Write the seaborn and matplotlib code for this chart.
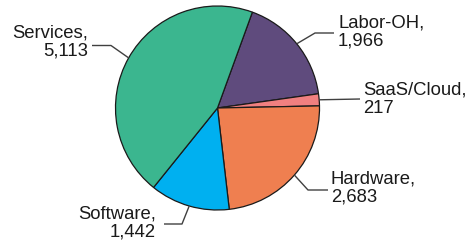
import matplotlib
matplotlib.use("Agg")
import matplotlib.pyplot as plt
import seaborn as sns
import numpy as np

sns.set_theme(style="white")
plt.rcParams['font.family'] = ['Liberation Sans', 'DejaVu Sans']

categories = ["Labor-OH", "SaaS/Cloud", "Hardware", "Software", "Services"]
values = [1966, 217, 2683, 1442, 5113]
colors = ["#5f4b7d", "#f08080", "#ef7f50", "#00b0f0", "#3bb68f"]

W, H = 468, 245
CX, CY, R = 217.5, 108.0, 102.0

fig = plt.figure(figsize=(W / 100, H / 100), dpi=100)
ax = fig.add_axes([(CX - R) / W, (H - CY - R) / H, 2 * R / W, 2 * R / H])
ax.set_xlim(-1, 1)
ax.set_ylim(-1, 1)
ax.axis("off")

wedges, _ = ax.pie(values, colors=colors, startangle=70, counterclock=False,
                   radius=1.0, center=(0, 0), frame=False,
                   wedgeprops=dict(edgecolor="#1a1a1a", linewidth=0.9))
ax.set_xlim(-1, 1)
ax.set_ylim(-1, 1)


def d(px, py):
    return ((px - CX) / R, (CY - py) / R)


# label layout (pixels): text anchor, alignment, elbow, line end near text
layout = {
    "Services":   dict(text=(88, 42), ha="right", elbow=(111, 45.5), end=(92, 45.5)),
    "Labor-OH":   dict(text=(338, 32), ha="left", elbow=(315, 33), end=(334, 33)),
    "SaaS/Cloud": dict(text=(363, 99), ha="left", elbow=None, end=(360, 99)),
    "Hardware":   dict(text=(331, 188), ha="left", elbow=(308, 190), end=(328, 190)),
    "Software":   dict(text=(156, 223), ha="right", elbow=(182, 224), end=(164, 224)),
}

for w, cat, val in zip(wedges, categories, values):
    mid = np.deg2rad((w.theta1 + w.theta2) / 2)
    edge = (np.cos(mid), np.sin(mid))
    L = layout[cat]
    pts = [edge]
    if L["elbow"] is not None:
        pts.append(d(*L["elbow"]))
    pts.append(d(*L["end"]))
    xs, ys = zip(*pts)
    ax.plot(xs, ys, color="#404040", lw=1.0, clip_on=False, solid_capstyle="butt")
    tx, ty = d(*L["text"])
    ax.text(tx, ty, f"{cat},\n{val:,}", ha=L["ha"], va="center",
            multialignment=L["ha"], fontsize=13.3, color="#1a1a1a",
            linespacing=1.1, clip_on=False)

fig.savefig("out.png", dpi=100)
